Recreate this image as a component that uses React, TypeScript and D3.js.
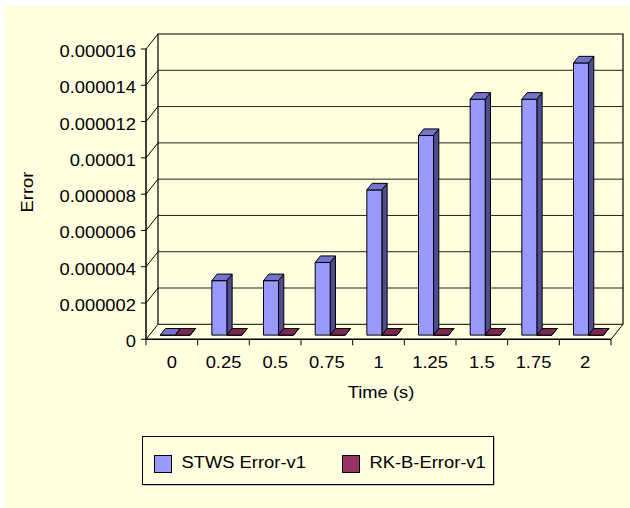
import React from "react";
import * as d3 from "d3";

// Time steps (s) and error of the two integrators
const categories = ["0", "0.25", "0.5", "0.75", "1", "1.25", "1.5", "1.75", "2"];
const stwsError = [0, 3e-6, 3e-6, 4e-6, 8e-6, 11e-6, 13e-6, 13e-6, 15e-6];
const rkbError = [0, 0, 0, 0, 0, 0, 0, 0, 0];
const seriesNames = ["STWS Error-v1", "RK-B-Error-v1"];
const yTicks = [0, 2e-6, 4e-6, 6e-6, 8e-6, 10e-6, 12e-6, 14e-6, 16e-6];
const yTickLabels = ["0", "0.000002", "0.000004", "0.000006", "0.000008", "0.00001", "0.000012", "0.000014", "0.000016"];

const W = 630;
const H = 508;
const BG = "#FFFFE0";
const FONT = "Arial, 'Liberation Sans', sans-serif";
const FS = 17;
const SX = 1.08;

// plot geometry (front plane) and depth offset of the 3D box
const X0 = 146;
const X1 = 611;
const Y0 = 339.3;
const Y1 = 49;
const DX = 12;
const DY = 15;
const ZF = 0.28;
const ZB = 0.72;

const palette = [
  { front: "#9999FF", top: "#7373CC", side: "#4D4D8F" },
  { front: "#993366", top: "#7A2852", side: "#4D1A33" },
];

const P = (x: number, y: number, z: number): [number, number] => [x + z * DX, y - z * DY];
const poly = (pts: [number, number][]) => pts.map((p) => p.join(",")).join(" ");

// slightly widened text, anchored at (x, y)
function Label(props: { x: number; y: number; anchor?: "start" | "middle" | "end"; rotate?: number; children: React.ReactNode }) {
  const { x, y, anchor = "start", rotate = 0, children } = props;
  return (
    <text
      transform={`translate(${x},${y}) rotate(${rotate}) scale(${SX},1)`}
      textAnchor={anchor}
      fontSize={FS}
      fill="#000"
    >
      {children}
    </text>
  );
}

export default function App() {
  const x = d3.scaleBand<string>().domain(categories).range([X0, X1]).padding(0);
  const inner = d3
    .scaleBand<number>()
    .domain([0, 1])
    .range([0, x.bandwidth()])
    .paddingInner(0)
    .paddingOuter(0.72);
  const y = d3.scaleLinear().domain([0, 16e-6]).range([Y0, Y1]);

  const series = [stwsError, rkbError];

  const bars: JSX.Element[] = [];
  categories.forEach((c, i) => {
    series.forEach((vals, s) => {
      const bx0 = (x(c) as number) + (inner(s) as number);
      const bx1 = bx0 + inner.bandwidth();
      const yv = y(vals[i]);
      const yb = y(0);
      const col = palette[s];
      bars.push(
        <g key={`${c}-${s}`} stroke="#000" strokeWidth={1} strokeLinejoin="round">
          <polygon
            fill={col.side}
            points={poly([P(bx1, yv, ZF), P(bx1, yv, ZB), P(bx1, yb, ZB), P(bx1, yb, ZF)])}
          />
          <polygon
            fill={col.front}
            points={poly([P(bx0, yv, ZF), P(bx1, yv, ZF), P(bx1, yb, ZF), P(bx0, yb, ZF)])}
          />
          <polygon
            fill={col.top}
            points={poly([P(bx0, yv, ZF), P(bx1, yv, ZF), P(bx1, yv, ZB), P(bx0, yv, ZB)])}
          />
        </g>
      );
    });
  });

  const boundaries = d3.range(categories.length + 1).map((k) => X0 + k * x.step());

  return (
    <svg
      width={W}
      height={H}
      style={{ position: "absolute", left: 0, top: 0, display: "block" }}
      fontFamily={FONT}
    >
      <rect x={0} y={0} width={W} height={H} fill="#fff" />
      <rect x={4} y={6} width={W - 4} height={H - 6} fill={BG} />

      {/* back wall gridlines */}
      {yTicks.slice(1, -1).map((t) => {
        const [ax, ay] = P(X0, y(t), 1);
        const [bx] = P(X1, y(t), 1);
        return <line key={`g${t}`} x1={ax} x2={bx} y1={ay} y2={ay} stroke="#222" strokeWidth={1} />;
      })}
      {/* side wall diagonals */}
      {yTicks.map((t) => {
        const [ax, ay] = P(X0, y(t), 0);
        const [bx, by] = P(X0, y(t), 1);
        return <line key={`d${t}`} x1={ax} y1={ay} x2={bx} y2={by} stroke="#000" strokeWidth={1} />;
      })}
      {/* back wall outline */}
      <polyline
        fill="none"
        stroke="#000"
        strokeWidth={1.2}
        points={poly([P(X0, Y0, 1), P(X0, Y1, 1), P(X1, Y1, 1), P(X1, Y0, 1)])}
      />
      {/* floor */}
      <polyline
        fill="none"
        stroke="#000"
        strokeWidth={1}
        points={poly([P(X0, Y0, 1), P(X1, Y0, 1), P(X1, Y0, 0)])}
      />

      {bars}

      {/* front axes */}
      <line x1={X0} x2={X0} y1={Y1} y2={Y0} stroke="#000" strokeWidth={1.5} />
      <line x1={X0} x2={X1} y1={Y0} y2={Y0} stroke="#000" strokeWidth={1.5} />
      {yTicks.map((t, k) => (
        <g key={`yt${t}`}>
          <line x1={X0 - 5} x2={X0} y1={y(t)} y2={y(t)} stroke="#000" strokeWidth={1} />
          <Label x={136} y={y(t) + 8} anchor="end">
            {yTickLabels[k]}
          </Label>
        </g>
      ))}
      {boundaries.map((bx, k) => (
        <line key={`xt${k}`} x1={bx} x2={bx} y1={Y0} y2={Y0 + 6} stroke="#000" strokeWidth={1} />
      ))}
      {categories.map((c) => (
        <Label key={`xl${c}`} x={(x(c) as number) + x.bandwidth() / 2} y={367.5} anchor="middle">
          {c}
        </Label>
      ))}

      <Label x={381} y={398} anchor="middle">
        Time (s)
      </Label>
      <text
        transform="translate(33,192) rotate(-90) scale(1.08,1)"
        textAnchor="middle"
        fontSize={FS}
        fill="#000"
      >
        Error
      </text>

      {/* legend */}
      <rect x={143.5} y={437.5} width={351} height={48} fill="#888" />
      <rect x={142.5} y={436.5} width={351} height={48} fill={BG} stroke="#000" strokeWidth={1} />
      {seriesNames.map((name, s) => {
        const lx = s === 0 ? 154.5 : 342.5;
        return (
          <g key={name}>
            <rect x={lx} y={455.5} width={17} height={17} fill={palette[s].front} stroke="#000" strokeWidth={1} />
            <Label x={lx + 27} y={467.5}>
              {name}
            </Label>
          </g>
        );
      })}
    </svg>
  );
}
